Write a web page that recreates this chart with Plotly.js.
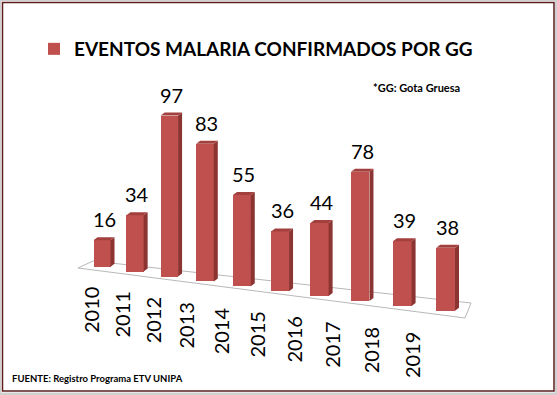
<!DOCTYPE html>
<html>
<head>
<meta charset="utf-8">
<script src="https://cdn.plot.ly/plotly-3.0.1.min.js"></script>
<style>html,body{margin:0;padding:0;background:#fff;}#chart{width:557px;height:395px;}</style>
</head>
<body>
<div id="chart"></div>
<script>
// ---- data ----
const years = ['2010','2011','2012','2013','2014','2015','2016','2017','2018','2019'];
const values = [16, 34, 97, 83, 55, 36, 44, 78, 39, 38];
const seriesName = 'EVENTOS MALARIA CONFIRMADOS POR GG';
const keyNote = '*GG: Gota Gruesa';
const sourceNote = 'FUENTE: Registro Programa ETV UNIPA';

// ---- pseudo-3D perspective layout (page pixels) ----
const W = 557, H = 395;
const S = 1.6586;            // px per unit on the value axis
const B0 = 266.7;            // floor pixel row under the first bar
const FONT = 'Lato, "Open Sans", sans-serif';
const xc = i => 102 + 32.4 * i + 0.642 * i * i;     // bar centre (px) with perspective
const bottomPx = i => B0 + 4.9 * i;                 // floor line under bar i
const baseOf = i => -(bottomPx(i) - B0) / S;        // floor expressed in value units
const widthOf = i => 17 + 0.2 * i;
const DX = 4, DY = 3 / S;                           // depth of the 3D extrusion
const px = x => x / W, py = y => 1 - y / H;

const idx = years.map((_, i) => i);
const xs = idx.map(xc);
const bases = idx.map(baseOf);
const widths = idx.map(widthOf);

// side faces & top faces
const sideX = [], sideY = [], topX = [], topY = [];
idx.forEach(i => {
  const xl = xs[i] - widths[i] / 2, xr = xs[i] + widths[i] / 2;
  const b = bases[i], t = bases[i] + values[i];
  sideX.push(xr, xr, xr + DX, xr + DX, xr, null);
  sideY.push(b, t, t + DY, b + DY, b, null);
  topX.push(xl, xr, xr + DX, xl + DX, xl, null);
  topY.push(t, t, t + DY, t + DY, t, null);
});

const traces = [
  {
    type: 'bar', name: seriesName, x: xs, y: values, base: bases, width: widths,
    marker: {color: '#c0504d', line: {width: 0}},
    hovertext: years.map((y, i) => y + ': ' + values[i]), hoverinfo: 'text'
  },
  {
    type: 'scatter', mode: 'lines', x: sideX, y: sideY, fill: 'toself',
    fillcolor: '#8c3431', line: {width: 0}, showlegend: false, hoverinfo: 'skip'
  },
  {
    type: 'scatter', mode: 'lines', x: topX, y: topY, fill: 'toself',
    fillcolor: '#a3403d', line: {width: 0}, showlegend: false, hoverinfo: 'skip'
  }
];

const annotations = [];
idx.forEach(i => {
  annotations.push({
    x: xs[i] + DX / 2, y: bases[i] + values[i], xref: 'x', yref: 'y',
    text: String(values[i]), showarrow: false, xanchor: 'center', yanchor: 'bottom',
    yshift: 7, font: {family: FONT, size: 20, color: '#000'}
  });
  annotations.push({
    x: xs[i] - (11 + 2.5 * i), y: py(285 + 5 * i), xref: 'x', yref: 'paper',
    text: years[i], showarrow: false, textangle: -90, xanchor: 'center', yanchor: 'top',
    font: {family: FONT, size: 20, color: '#000'}
  });
});
annotations.push({
  x: px(416), y: py(88), xref: 'paper', yref: 'paper', text: keyNote, showarrow: false,
  xanchor: 'center', yanchor: 'middle', font: {family: FONT, size: 11, weight: 'bold', color: '#000'}
});
annotations.push({
  x: px(10), y: py(378), xref: 'paper', yref: 'paper', text: sourceNote, showarrow: false,
  xanchor: 'left', yanchor: 'middle', font: {family: FONT, size: 9.5, weight: 'bold', color: '#000'}
});

// floor of the 3D plot
const floorPts = [[78, 268], [93, 261], [471, 303], [465, 318]];
const floorPath = 'M' + floorPts.map(p => px(p[0]) + ',' + py(p[1])).join('L') + 'Z';

const shapes = [
  {type: 'rect', xref: 'paper', yref: 'paper', x0: 0, x1: 1, y0: 0, y1: 1,
   fillcolor: '#d0d0d0', line: {width: 0}, layer: 'below'},
  {type: 'rect', xref: 'paper', yref: 'paper', x0: px(1), x1: px(555), y0: py(392.5), y1: py(1),
   fillcolor: '#ffffff', line: {width: 0}, layer: 'below'},
  {type: 'rect', xref: 'paper', yref: 'paper', x0: px(2.5), x1: px(554), y0: py(391), y1: py(2.5),
   fillcolor: 'rgba(0,0,0,0)', line: {color: '#5e1c1c', width: 1.5}, layer: 'below'},
  {type: 'path', xref: 'paper', yref: 'paper', path: floorPath,
   fillcolor: '#ffffff', line: {color: '#b8b8b8', width: 1}, layer: 'below'}
];

const layout = {
  width: W, height: H,
  margin: {l: 0, r: 0, t: 0, b: 0, pad: 0},
  paper_bgcolor: '#ffffff', plot_bgcolor: 'rgba(0,0,0,0)',
  showlegend: true,
  legend: {
    orientation: 'h', x: px(34), y: py(30), xanchor: 'left', yanchor: 'top',
    bgcolor: 'rgba(0,0,0,0)', font: {family: FONT, size: 19, weight: 'bold', color: '#000'}
  },
  xaxis: {range: [0, W], visible: false, fixedrange: true},
  yaxis: {range: [(B0 - H) / S, B0 / S], visible: false, fixedrange: true},
  bargap: 0,
  shapes: shapes,
  annotations: annotations
};

Plotly.newPlot('chart', traces, layout, {displayModeBar: false, staticPlot: true});
</script>
</body>
</html>
